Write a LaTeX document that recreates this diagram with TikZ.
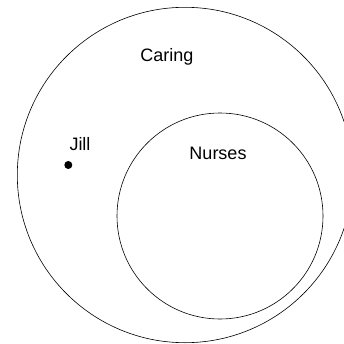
\documentclass[tikz,border=0pt]{standalone}
\usepackage{fontspec}
\setmainfont{Liberation Sans}
\begin{document}
\begin{tikzpicture}[x=1pt,y=1pt,
  setcircle/.style={draw=black,circle,line width=0.6pt,inner sep=0pt},
  lbl/.style={font=\fontsize{18}{20}\selectfont,anchor=base,inner sep=0pt}]
\useasboundingbox (0,0) rectangle (344,343);
\clip (0,0) rectangle (344,343);
\node[setcircle,minimum size=335.4pt] (caring) at (185,168) {};
\node[setcircle,minimum size=206pt] (nurses) at (220,127) {};
\node[lbl] (caringlbl) at (167,281.5) {Caring};
\node[lbl] (nurseslbl) at (218,183.7) {Nurses};
\node[lbl] (jill) at (80,192.3) {Jill};
\node[circle,fill=black,minimum size=8pt,inner sep=0pt] (jilldot) at (68.3,178) {};
\end{tikzpicture}
\end{document}
